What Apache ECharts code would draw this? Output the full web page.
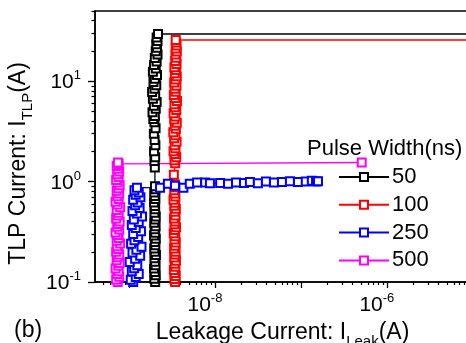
<!DOCTYPE html>
<html>
<head>
<meta charset="utf-8">
<script src="https://cdn.jsdelivr.net/npm/echarts@6/dist/echarts.min.js"></script>
<style>
  html, body { margin: 0; padding: 0; background: #fff; overflow: hidden; }
  #chart { width: 466px; height: 343px; }
</style>
</head>
<body>
<div id="chart"></div>
<script>
// leakage currents in nA, TLP currents in A
const leak50 = [2.02, 1.97, 2.05, 2.0, 1.96, 2.04, 2.01, 1.98, 2.06, 2.0,
  1.97, 2.03, 2.0, 2.05, 1.96, 2.02, 1.99, 2.04, 1.97, 2.01,
  2.05, 1.98, 2.02, 2.0, 1.96, 2.03, 2.0, 1.97, 2.04, 2.01,
  2.0, 1.98, 2.02, 1.96, 2.03, 1.99, 1.95, 2.04, 1.98,
  1.92, 2.0, 1.88, 2.05, 1.95, 2.1, 1.9, 2.02, 1.86, 1.98,
  2.08, 1.93, 2.0, 2.12, 1.9, 2.05, 1.96, 2.1, 2.0, 2.15,
  2.05, 2.12, 2.08, 2.15, 2.1, 2.18, 1e5];
const tlp50 = [0.1, 0.108, 0.117, 0.126, 0.136, 0.147, 0.159, 0.172, 0.186, 0.2,
  0.215, 0.232, 0.25, 0.27, 0.29, 0.31, 0.335, 0.36, 0.39, 0.42,
  0.45, 0.49, 0.53, 0.57, 0.62, 0.67, 0.72, 0.78, 0.84, 0.9,
  1.38, 1.6, 1.75, 2.0, 2.3, 2.6, 3.0, 3.4, 3.9,
  4.2, 4.5, 4.9, 5.3, 5.7, 6.2, 6.7, 7.2, 7.8, 8.4,
  9.1, 9.8, 10.6, 11.5, 12.4, 13.4, 14.5, 15.7, 17, 18.4,
  19.9, 21.5, 23.3, 25.2, 27.3, 29.5, 29.5];

const leak100 = [3.45, 3.38, 3.5, 3.42, 3.33, 3.47, 3.4, 3.52, 3.36, 3.44,
  3.49, 3.35, 3.43, 3.5, 3.38, 3.46, 3.32, 3.41, 3.53, 3.39,
  3.45, 3.34, 3.48, 3.4, 3.51, 3.37, 3.44, 3.3, 3.47, 3.42,
  3.36, 3.5, 3.4, 3.33, 3.45, 3.38, 3.55, 3.42, 3.3, 3.48,
  3.4, 3.58, 3.35, 3.46, 3.28, 3.52, 3.42, 3.6, 3.36, 3.47,
  3.31, 3.55, 3.43, 3.38, 3.62, 3.45, 3.33, 3.5, 3.4, 3.57,
  3.36, 3.48, 3.6, 3.42, 3.52, 3.38, 3.58, 3.45, 3.55, 3.48,
  3.6, 3.5, 3.58, 3.52, 3.5, 1e5];
const tlp100 = [0.1, 0.107, 0.115, 0.123, 0.132, 0.142, 0.152, 0.163, 0.175, 0.188,
  0.2, 0.215, 0.23, 0.247, 0.265, 0.285, 0.305, 0.33, 0.35, 0.375,
  0.4, 0.43, 0.46, 0.5, 0.535, 0.575, 0.615, 0.66, 0.71, 0.76,
  0.82, 0.88, 0.94, 1.17, 1.52, 1.63, 1.75, 1.88, 2.0, 2.15,
  2.3, 2.5, 2.7, 2.9, 3.1, 3.35, 3.6, 3.85, 4.15, 4.45,
  4.8, 5.15, 5.5, 5.9, 6.35, 6.8, 7.3, 7.85, 8.4, 9.0,
  9.7, 10.4, 11.2, 12, 12.9, 13.8, 14.8, 15.9, 17.1, 18.4,
  19.7, 21.2, 22.7, 24.3, 25.7, 25.7];

const leak250 = [1.12, 1.05, 1.2, 1.3, 1.08, 1.15, 1.25, 1.02, 1.18, 1.35,
  1.1, 1.22, 1.4, 1.06, 1.16, 1.28, 1.12, 1.38, 1.2, 1.08,
  1.3, 1.14, 1.42, 1.24, 1.1, 1.33, 1.18, 1.26, 1.12, 1.36,
  1.2, 1.3, 1.16, 1.24,
  2.3, 2.84, 3.43, 4.3, 5.1, 6.2, 7.7, 8.75, 11.5, 14.2,
  17.6, 21.8, 25.5, 31.6, 39.2, 48.6, 60.2, 74.5, 92.4, 114,
  134, 150, 158];
const tlp250 = [0.1, 0.105, 0.112, 0.12, 0.128, 0.137, 0.147, 0.158, 0.17, 0.183,
  0.197, 0.21, 0.225, 0.24, 0.26, 0.28, 0.3, 0.32, 0.345, 0.37,
  0.395, 0.42, 0.45, 0.48, 0.51, 0.545, 0.58, 0.62, 0.66, 0.7,
  0.74, 0.78, 0.82, 0.87,
  0.87, 0.95, 0.91, 0.87, 0.95, 0.98, 0.98, 0.96, 0.97, 0.95,
  0.98, 0.97, 0.99, 0.96, 1.0, 0.98, 0.99, 1.01, 0.99, 1.0,
  1.02, 1.0, 1.01];

const leak500 = [0.74, 0.71, 0.77, 0.73, 0.76, 0.7, 0.75, 0.78, 0.72, 0.74,
  0.77, 0.71, 0.75, 0.73, 0.79, 0.72, 0.76, 0.74, 0.7, 0.77,
  0.73, 0.75, 0.78, 0.71, 0.74, 0.76, 0.72, 0.79, 0.74, 0.7,
  0.76, 0.73, 0.77, 0.72, 0.75, 0.78, 0.74, 0.71, 0.76, 0.73,
  0.77, 0.74, 0.72, 0.76, 0.745, 510];
const tlp500 = [0.1, 0.106, 0.113, 0.12, 0.128, 0.136, 0.145, 0.155, 0.165, 0.176,
  0.188, 0.2, 0.213, 0.227, 0.242, 0.258, 0.275, 0.293, 0.312, 0.333,
  0.355, 0.378, 0.4, 0.43, 0.46, 0.49, 0.52, 0.555, 0.59, 0.63,
  0.67, 0.715, 0.76, 0.81, 0.86, 0.92, 0.98, 1.04, 1.11, 1.18,
  1.26, 1.34, 1.43, 1.5, 1.55, 1.55];

const pulseWidths = ['50', '100', '250', '500'];
const colors = ['#000000', '#ff0000', '#0000ff', '#ff00ff'];

const xMajor = [1e-9, 1e-8, 1e-7, 1e-6, 1e-5];
const xLabels = [1e-8, 1e-6];
const yMajor = [0.1, 1, 10];
const yLabels = [0.1, 1, 10];
const X_MIN = 4.03e-10, X_MAX = 1.21e-5;
const Y_MIN = 0.1, Y_MAX = 50;

const FONT = '"Liberation Sans", Arial, sans-serif';

function minorTicks(lo, hi, from, to) {
  const out = [];
  for (let e = from; e <= to; e++) {
    for (let m = 2; m <= 9; m++) {
      const v = m * Math.pow(10, e);
      if (v > lo && v < hi) out.push(v);
    }
  }
  return out;
}
const xMinor = minorTicks(X_MIN, X_MAX, -10, -5);
const yMinor = minorTicks(Y_MIN, Y_MAX * 1.01, -1, 1);

const pairs = (xs, ys) => xs.map((x, i) => [x * 1e-9, ys[i]]);
const seriesData = [pairs(leak50, tlp50), pairs(leak100, tlp100),
  pairs(leak250, tlp250), pairs(leak500, tlp500)];

const powLabel = v => '{b|10}{s|' + Math.round(Math.log10(v)) + '}';
const powRich = {
  b: { fontSize: 21, fontFamily: FONT, color: '#000', verticalAlign: 'bottom', lineHeight: 24 },
  s: { fontSize: 13, fontFamily: FONT, color: '#000', verticalAlign: 'top', lineHeight: 14 }
};
const nameRich = {
  n: { fontSize: 23, fontFamily: FONT, color: '#000', verticalAlign: 'top', lineHeight: 25 },
  sub: { fontSize: 15, fontFamily: FONT, color: '#000', verticalAlign: 'top', lineHeight: 17, padding: [13, 0, 0, 0] }
};

const axisLine = { show: true, lineStyle: { color: '#000', width: 1.5 } };

const chart = echarts.init(document.getElementById('chart'));
chart.setOption({
  animation: false,
  backgroundColor: '#fff',
  title: {
    text: 'Pulse Width(ns)', left: 302, top: 133,
    textStyle: { fontSize: 22, fontWeight: 'normal', color: '#000', fontFamily: FONT }
  },
  legend: {
    orient: 'vertical', left: 333, top: 161,
    itemWidth: 50, itemHeight: 10, itemGap: 5.8,
    data: pulseWidths,
    textStyle: { fontSize: 22, color: '#000', fontFamily: FONT, lineHeight: 22, padding: [0, 0, 0, -2] }
  },
  grid: {
    left: 95, top: 11, right: -14, bottom: 61, show: true,
    borderColor: '#000', borderWidth: 1.5, outerBoundsMode: 'none', containLabel: false
  },
  xAxis: [{
    type: 'log', min: X_MIN, max: X_MAX, position: 'bottom',
    axisLine,
    axisTick: { customValues: xMajor, length: 6, lineStyle: { color: '#000', width: 1.3 } },
    axisLabel: { customValues: xLabels, formatter: powLabel, rich: powRich, margin: 10, padding: [0, 20, 0, 0] },
    splitLine: { show: false },
    name: '{n|Leakage Current: I}{sub|Leak}{n|(A)}',
    nameLocation: 'middle', nameGap: 36,
    nameTextStyle: { rich: nameRich, padding: [0, 10, 0, 0] }
  }, {
    type: 'log', min: X_MIN, max: X_MAX, position: 'bottom',
    axisLine: { show: false },
    axisTick: { customValues: xMinor, length: 3, lineStyle: { color: '#000', width: 1.2 } },
    axisLabel: { show: false },
    splitLine: { show: false }
  }],
  yAxis: [{
    type: 'log', min: Y_MIN, max: Y_MAX, position: 'left',
    axisLine,
    axisTick: { customValues: yMajor, length: 7, lineStyle: { color: '#000', width: 1.3 } },
    axisLabel: { customValues: yLabels, formatter: powLabel, rich: powRich, margin: 14 },
    splitLine: { show: false },
    name: '{n|TLP Current: I}{sub|TLP}{n|(A)}',
    nameLocation: 'middle', nameGap: 37,
    nameTextStyle: { rich: nameRich, padding: [0, 34, 0, 0] }
  }, {
    type: 'log', min: Y_MIN, max: Y_MAX, position: 'left',
    axisLine: { show: false },
    axisTick: { customValues: yMinor, length: 3.5, lineStyle: { color: '#000', width: 1.2 } },
    axisLabel: { show: false },
    splitLine: { show: false }
  }],
  graphic: [{
    type: 'text', left: 14, top: 319,
    style: { text: '(b)', fontSize: 23, fontFamily: FONT, fill: '#000' }
  }],
  series: pulseWidths.map((name, i) => ({
    name, type: 'line', xAxisIndex: 0, yAxisIndex: 0,
    data: seriesData[i],
    symbol: 'emptyRect', symbolSize: 8,
    color: colors[i],
    lineStyle: { color: colors[i], width: 1.3 },
    itemStyle: { color: colors[i], borderWidth: 1.5 },
    clip: true
  }))
});
</script>
</body>
</html>
